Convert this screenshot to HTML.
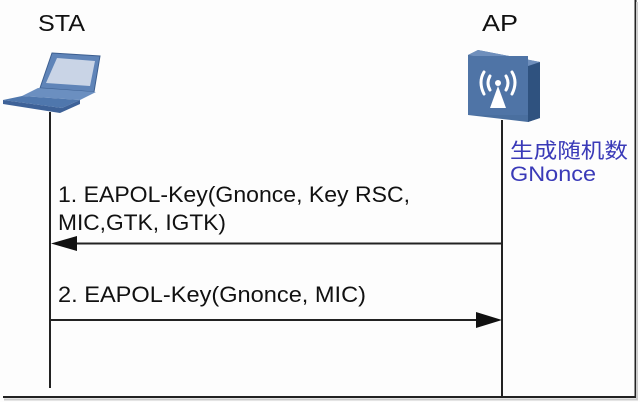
<!DOCTYPE html>
<html><head><meta charset="utf-8"><style>
html,body{margin:0;padding:0;background:#fff}
</style></head><body>
<svg width="640" height="402" viewBox="0 0 640 402" xmlns="http://www.w3.org/2000/svg">
<rect x="0" y="0" width="640" height="402" fill="#fdfdfd"/>
<line x1="635.5" y1="0" x2="635.5" y2="398" stroke="#222" stroke-width="2"/>
<line x1="3" y1="397" x2="636" y2="397" stroke="#222" stroke-width="2"/>
<line x1="637" y1="2" x2="637" y2="400" stroke="#ccc" stroke-width="2"/>
<line x1="4" y1="399.5" x2="638" y2="399.5" stroke="#ccc" stroke-width="2"/>
<g font-family="Liberation Sans, sans-serif" fill="#111">
<text x="38" y="31" font-size="23" textLength="47" lengthAdjust="spacingAndGlyphs">STA</text>
<text x="482" y="31" font-size="23" textLength="36" lengthAdjust="spacingAndGlyphs">AP</text>
<text x="58" y="202" font-size="22" textLength="352" lengthAdjust="spacingAndGlyphs">1. EAPOL-Key(Gnonce, Key RSC,</text>
<text x="58" y="230" font-size="22" textLength="168" lengthAdjust="spacingAndGlyphs">MIC,GTK, IGTK)</text>
<text x="58" y="302" font-size="22" textLength="308" lengthAdjust="spacingAndGlyphs">2. EAPOL-Key(Gnonce, MIC)</text>
</g>
<text x="510" y="158" font-size="21" fill="#3a3ab8" font-family="Liberation Sans, Noto Sans CJK SC, sans-serif" textLength="118" lengthAdjust="spacingAndGlyphs">生成随机数</text>
<text x="510" y="181" font-size="21" fill="#3a3ab8" font-family="Liberation Sans, sans-serif" textLength="86" lengthAdjust="spacingAndGlyphs">GNonce</text>
<line x1="50" y1="112" x2="50" y2="388" stroke="#222" stroke-width="2"/>
<line x1="502" y1="120" x2="502" y2="397" stroke="#222" stroke-width="2"/>
<line x1="70" y1="243.5" x2="502" y2="243.5" stroke="#222" stroke-width="2"/>
<polygon points="51,243.5 77,236 77,251" fill="#111"/>
<line x1="50" y1="320" x2="480" y2="320" stroke="#222" stroke-width="2"/>
<polygon points="502,320 476,312 476,328" fill="#111"/>
<polygon points="52,53 100,56 94,92 40,88" fill="#5f84b8" stroke="#3d5f90"/>
<polygon points="57,58 95,61 90,86 46,83" fill="#c9d4e6"/>
<polygon points="38,88 96,92 80,100 22,96" fill="#6b8fc0"/>
<polygon points="3,100 22,96 80,100 62,108" fill="#4f77ad"/>
<polygon points="3,100 62,108 80,100 80,104 60,113 3,104" fill="#3e6298"/>
<polygon points="468,55 478,50 540,62 540,118 528,122 468,115" fill="#4a6f9f"/>
<polygon points="528,66 540,62 540,118 528,122" fill="#2f527f"/>
<polygon points="468,55 478,50 540,62 528,66" fill="#6f8fbc"/>
<rect x="468" y="56" width="60" height="59" fill="#4f74a6"/>
<g stroke="#fff" stroke-width="3" fill="none" stroke-linecap="round">
<path d="M484 72 Q478 82 484 94"/>
<path d="M490 76 Q486 83 490 90"/>
<path d="M512 72 Q518 82 512 94"/>
<path d="M506 76 Q510 83 506 90"/>
</g>
<circle cx="498" cy="83" r="3" fill="#fff"/>
<polygon points="498,86 490,108 506,108" fill="#fff"/>
</svg>
</body></html>
